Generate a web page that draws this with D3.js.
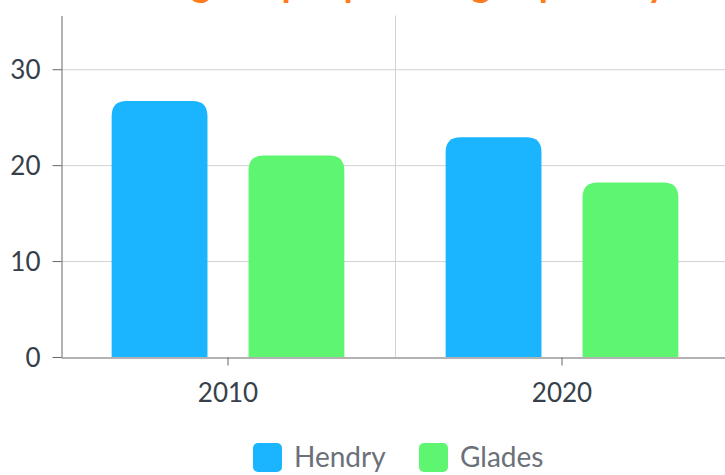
<!DOCTYPE html>
<html>
<head>
<meta charset="utf-8">
<script src="https://cdn.jsdelivr.net/npm/d3@7"></script>
<style>
  body { margin: 0; background: #fff; }
  svg { display: block; font-family: Lato, sans-serif; }
</style>
</head>
<body>
<div id="chart"></div>
<script>
// data
let title = "Percentage of people living in poverty"
let years = ["2010", "2020"]
let series = ["Hendry", "Glades"]
let hendry = [26.7, 22.9]
let glades = [21.0, 18.2]
let yTicks = [0, 10, 20, 30]
let colors = ["#1ab4ff", "#5ef570"]

let width = 725, height = 475
let margin = {top: 15.5, right: -4, bottom: 118, left: 61}

let svg = d3.select("#chart")
    .append("svg")
    .attr("width", width)
    .attr("height", height)

let x = d3.scaleBand()
    .domain(years)
    .range([margin.left, width - margin.right])

let xs = d3.scaleBand()
    .domain(series)
    .range([0, x.bandwidth()])
    .paddingInner(0.3)
    .paddingOuter(0.37)

let y = d3.scaleLinear()
    .domain([0, 35.6])
    .range([height - margin.bottom, margin.top])

let color = d3.scaleOrdinal().domain(series).range(colors)

// grid
svg.append("g")
    .selectAll("line")
    .data(yTicks.slice(1))
    .join("line")
    .attr("x1", margin.left).attr("x2", width)
    .attr("y1", d => y(d) + 0.5).attr("y2", d => y(d) + 0.5)
    .attr("stroke", "#d2d2d2")

svg.append("g")
    .selectAll("line")
    .data(years.slice(1))
    .join("line")
    .attr("x1", d => x(d) + 0.5).attr("x2", d => x(d) + 0.5)
    .attr("y1", y.range()[1]).attr("y2", y(0))
    .attr("stroke", "#d2d2d2")

// bars with rounded tops
let rows = years.map((yr, i) => ({year: yr, values: [
    {key: "Hendry", value: hendry[i]},
    {key: "Glades", value: glades[i]}
]}))

let topRounded = function(x0, y0, w, h, r) {
    r = Math.min(r, h, w / 2)
    return `M${x0},${y0 + h}V${y0 + r}Q${x0},${y0} ${x0 + r},${y0}` +
        `H${x0 + w - r}Q${x0 + w},${y0} ${x0 + w},${y0 + r}V${y0 + h}Z`
}

svg.append("g")
    .selectAll("g")
    .data(rows)
    .join("g")
    .attr("transform", d => `translate(${x(d.year)},0)`)
    .selectAll("path")
    .data(d => d.values)
    .join("path")
    .attr("fill", d => color(d.key))
    .attr("d", d => topRounded(xs(d.key), y(d.value), xs.bandwidth(), y(0) - y(d.value), 15))

// axes
let yAxis = svg.append("g")
    .attr("transform", `translate(${margin.left + 0.5},0)`)
    .call(d3.axisLeft(y).tickValues(yTicks).tickSize(9).tickPadding(12).tickSizeOuter(0))
yAxis.select(".domain").attr("stroke", "#666")
yAxis.selectAll(".tick line").attr("stroke", "#666")
yAxis.selectAll("text")
    .attr("font-family", "Lato, sans-serif")
    .attr("font-size", 26)
    .attr("fill", "#36404a")
    .attr("dy", "0.36em")

let xAxis = svg.append("g")
    .attr("transform", `translate(0,${y(0) + 0.5})`)
    .call(d3.axisBottom(x).tickSize(8).tickPadding(18).tickSizeOuter(0))
xAxis.select(".domain").attr("stroke", "#666")
xAxis.selectAll(".tick line").attr("stroke", "#666")
xAxis.selectAll("text")
    .attr("font-family", "Lato, sans-serif")
    .attr("font-size", 26)
    .attr("fill", "#36404a")

// title, mostly cut off by the top edge as in the reference
svg.append("text")
    .attr("x", 356)
    .attr("y", -3)
    .attr("text-anchor", "middle")
    .attr("font-family", "Lato, sans-serif")
    .attr("font-weight", "bold")
    .attr("font-size", 37)
    .attr("fill", "#ff7b1c")
    .text(title)

// legend
let legendX = [253, 419]
let legend = svg.append("g")
    .selectAll("g")
    .data(series)
    .join("g")
    .attr("transform", (d, i) => `translate(${legendX[i]},443)`)
legend.append("rect")
    .attr("width", 29).attr("height", 29)
    .attr("rx", 5)
    .attr("fill", d => color(d))
legend.append("text")
    .attr("x", 41)
    .attr("y", 24)
    .attr("font-family", "Lato, sans-serif")
    .attr("font-size", 28)
    .attr("fill", "#6b7079")
    .text(d => d)
</script>
</body>
</html>
